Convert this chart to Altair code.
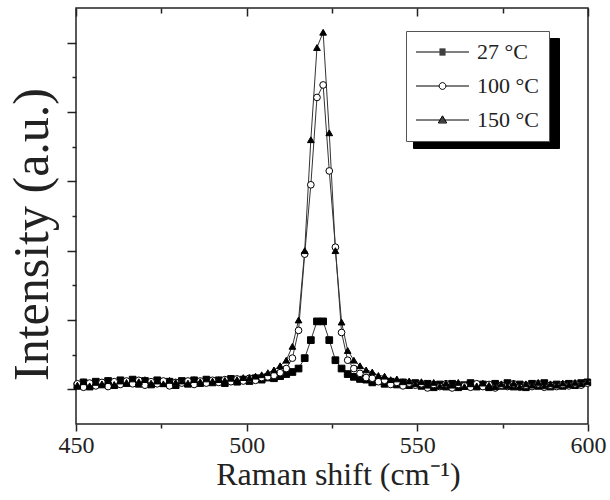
import altair as alt
import pandas as pd

# ---------------- data ----------------
raman_shift = [
    450.4, 452.2, 454.0, 455.8, 457.6, 459.4, 461.2, 463.0, 464.8, 466.6,
    468.4, 470.2, 472.0, 473.8, 475.6, 477.4, 479.2, 481.0, 482.8, 484.6,
    486.4, 488.2, 490.0, 491.8, 493.6, 495.4, 497.2, 499.0, 500.8, 502.6,
    504.4, 506.2, 508.0, 509.8, 511.6, 513.4, 515.2, 517.0, 518.8, 520.6,
    522.4, 524.2, 526.0, 527.8, 529.6, 531.4, 533.2, 535.0, 536.8, 538.6,
    540.4, 542.2, 544.0, 545.8, 547.6, 549.4, 551.2, 553.0, 554.8, 556.6,
    558.4, 560.2, 562.0, 563.8, 565.6, 567.4, 569.2, 571.0, 572.8, 574.6,
    576.4, 578.2, 580.0, 581.8, 583.6, 585.4, 587.2, 589.0, 590.8, 592.6,
    594.4, 596.2, 598.0, 599.8,
]
int_27 = [
    0.05, 0.10, 0.04, 0.11, 0.07, 0.12, 0.06, 0.13, 0.09, 0.14,
    0.08, 0.12, 0.07, 0.13, 0.09, 0.11, 0.06, 0.12, 0.08, 0.13,
    0.09, 0.14, 0.10, 0.13, 0.09, 0.15, 0.11, 0.14, 0.12, 0.16,
    0.14, 0.17, 0.16, 0.19, 0.22, 0.25, 0.30, 0.45, 0.71, 0.98,
    0.98, 0.71, 0.42, 0.30, 0.22, 0.18, 0.15, 0.14, 0.10, 0.12,
    0.08, 0.11, 0.07, 0.10, 0.06, 0.09, 0.05, 0.08, 0.03, 0.07,
    0.04, 0.08, 0.03, 0.06, 0.09, 0.04, 0.07, 0.03, 0.08, 0.05,
    0.09, 0.04, 0.07, 0.03, 0.08, 0.05, 0.09, 0.04, 0.07, 0.05,
    0.08, 0.06, 0.09, 0.10,
]
int_100 = [
    0.08, 0.03, 0.09, 0.05, 0.10, 0.04, 0.11, 0.07, 0.12, 0.08,
    0.13, 0.06, 0.11, 0.08, 0.12, 0.05, 0.10, 0.09, 0.12, 0.07,
    0.12, 0.09, 0.13, 0.10, 0.14, 0.11, 0.15, 0.12, 0.16, 0.13,
    0.17, 0.18, 0.20, 0.24, 0.30, 0.45, 0.85, 1.95, 2.95, 4.21,
    4.39, 3.15, 2.05, 0.82, 0.42, 0.30, 0.23, 0.17, 0.16, 0.11,
    0.13, 0.07, 0.10, 0.05, 0.09, 0.06, 0.08, 0.02, 0.07, 0.04,
    0.08, 0.02, 0.07, 0.05, 0.03, 0.08, 0.04, 0.07, 0.02, 0.06,
    0.04, 0.08, 0.03, 0.06, 0.04, 0.08, 0.03, 0.06, 0.04, 0.07,
    0.05, 0.08, 0.06, 0.09,
]
int_150 = [
    0.06, 0.11, 0.05, 0.10, 0.08, 0.13, 0.07, 0.12, 0.10, 0.15,
    0.11, 0.14, 0.09, 0.12, 0.08, 0.13, 0.10, 0.12, 0.09, 0.14,
    0.11, 0.15, 0.12, 0.14, 0.13, 0.16, 0.14, 0.17, 0.17, 0.19,
    0.21, 0.24, 0.28, 0.34, 0.42, 0.62, 1.00, 2.00, 3.60, 4.93,
    5.15, 3.70, 2.00, 0.97, 0.56, 0.42, 0.34, 0.28, 0.25, 0.20,
    0.19, 0.14, 0.15, 0.11, 0.12, 0.08, 0.11, 0.06, 0.10, 0.05,
    0.09, 0.06, 0.10, 0.04, 0.08, 0.05, 0.09, 0.06, 0.04, 0.08,
    0.05, 0.09, 0.04, 0.08, 0.06, 0.10, 0.05, 0.08, 0.06, 0.09,
    0.07, 0.10, 0.08, 0.11,
]
series_names = ["27 °C", "100 °C", "150 °C"]
x_ticks_major = [450, 500, 550, 600]
x_ticks_minor = [475, 525, 575]
y_ticks_major = [0, 1, 2, 3, 4, 5]
y_ticks_minor = [0.5, 1.5, 2.5, 3.5, 4.5]

assert len(raman_shift) == len(int_27) == len(int_100) == len(int_150)

rows = []
for name, vals in zip(series_names, [int_27, int_100, int_150]):
    for xv, yv in zip(raman_shift, vals):
        rows.append({"shift": xv, "intensity": yv, "series": name})
df = pd.DataFrame(rows)

# ---------------- styling ----------------
FONT = "Liberation Serif"
INK = "#222222"
xscale = alt.Scale(domain=[450, 600], nice=False, zero=False)
yscale = alt.Scale(domain=[-0.5, 5.5], nice=False, zero=False)


def tick_axis(orient, values, size, offset=0):
    return alt.Axis(orient=orient, values=values, tickSize=size, offset=offset,
                    labels=False, title=None, domain=False, grid=False,
                    tickColor=INK, tickWidth=1.5)


x_main = alt.Axis(orient="bottom", values=x_ticks_major, tickSize=7, tickColor=INK,
                  tickWidth=1.5, domain=False, grid=False,
                  labelFont=FONT, labelFontSize=24, labelColor=INK, labelPadding=2,
                  labelFlush=False, format="d",
                  title="Raman shift (cm⁻¹)", titleFont=FONT, titleFontSize=32,
                  titleFontWeight="normal", titleColor=INK, titlePadding=2,
                  titleX=262)
y_main = alt.Axis(orient="left", values=y_ticks_major, tickSize=9, tickColor=INK,
                  tickWidth=1.5, domain=False, grid=False, labels=False,
                  title="Intensity (a.u.)", titleFont=FONT, titleFontSize=50,
                  titleFontWeight="normal", titleColor=INK,
                  titleX=-44, titleY=226, titleBaseline="middle", titleAngle=270)

shape_range_marks = ["square", "circle", "triangle-up"]
fill_range = ["black", "white", "black"]

# legend symbols: a horizontal line with the marker in the middle
# (filled markers are drawn as stacks of 1px strokes)
legend_paths = [
    "M-2.65,0L2.65,0"
    "M-0.3,-0.3L0.3,-0.3M-0.3,-0.2L0.3,-0.2M-0.3,-0.1L0.3,-0.1"
    "M-0.3,0.1L0.3,0.1M-0.3,0.2L0.3,0.2M-0.3,0.3L0.3,0.3",
    "M-2.65,0L-0.34,0M0.34,0L2.65,0"
    "M0.34,0A0.34,0.34 0 1,1 -0.34,0A0.34,0.34 0 1,1 0.34,0Z",
    "M-2.65,0L2.65,0"
    "M0,-0.42L0.42,0.3L-0.42,0.3Z"
    "M-0.07,-0.3L0.07,-0.3M-0.13,-0.2L0.13,-0.2M-0.19,-0.1L0.19,-0.1"
    "M-0.3,0.1L0.3,0.1M-0.36,0.2L0.36,0.2",
]
# the shadow box carries no labels; a long stroke gives it the main box's width
shadow_path = "M-2.5,0L9.2,0"

LEG_X, LEG_Y = 330, 23
legend_main = alt.Legend(
    orient="none", legendX=LEG_X, legendY=LEG_Y, title=None, padding=10,
    strokeColor="#555555", fillColor="white",
    symbolSize=400, symbolOffset=15.5, symbolStrokeWidth=1,
    symbolStrokeColor="black", symbolFillColor="transparent",
    labelOffset=23.5, labelFont=FONT, labelFontSize=22, labelColor=INK,
    rowPadding=12,
)
legend_shadow = alt.Legend(
    orient="none", legendX=LEG_X + 7, legendY=LEG_Y + 7, title=None, padding=10,
    strokeColor="black", fillColor="black",
    symbolSize=441, symbolOffset=15.5, symbolStrokeWidth=1,
    symbolStrokeColor="black", symbolFillColor="black",
    labelExpr="''", labelOffset=0, labelFontSize=22,
    rowPadding=12,
)

base = alt.Chart(df)
empty = base.transform_filter("datum.intensity > 1000")

lines = base.mark_line(color="#333333", strokeWidth=1).encode(
    x=alt.X("shift:Q", scale=xscale, axis=x_main),
    y=alt.Y("intensity:Q", scale=yscale, axis=y_main),
    detail="series:N",
)

points = base.mark_point(stroke="black", strokeWidth=1, opacity=1, size=45).encode(
    x=alt.X("shift:Q", scale=xscale, axis=tick_axis("bottom", x_ticks_minor, 4)),
    y=alt.Y("intensity:Q", scale=yscale, axis=tick_axis("left", y_ticks_minor, 4)),
    shape=alt.Shape("series:N", scale=alt.Scale(domain=series_names, range=shape_range_marks), legend=None),
    fill=alt.Fill("series:N", scale=alt.Scale(domain=series_names, range=fill_range), legend=None),
)

shadow_layer = empty.mark_point(stroke="black", strokeWidth=1, opacity=1).encode(
    x=alt.X("shift:Q", scale=xscale, axis=tick_axis("top", x_ticks_minor, 5, offset=-5)),
    y=alt.Y("intensity:Q", scale=yscale, axis=None),
    shape=alt.Shape("series:N", scale=alt.Scale(domain=series_names, range=[shadow_path] * 3), legend=legend_shadow),
)

legend_layer = empty.mark_point(stroke="black", strokeWidth=1, opacity=1).encode(
    x=alt.X("shift:Q", scale=xscale, axis=tick_axis("top", x_ticks_major, 8, offset=-8)),
    y=alt.Y("intensity:Q", scale=yscale, axis=None),
    shape=alt.Shape("series:N", scale=alt.Scale(domain=series_names, range=legend_paths), legend=legend_main),
)

chart = alt.layer(lines, points, shadow_layer, legend_layer).resolve_scale(
    shape="independent", fill="independent"
).resolve_axis(
    x="independent", y="independent"
).properties(
    width=512, height=416,
    padding={"left": 76, "top": 8, "right": 22, "bottom": 76},
    autosize=alt.AutoSizeParams(type="none"),
    background="white",
).configure_view(stroke=INK, strokeWidth=1.5)

chart.save("out.html", embed_options={"renderer": "svg", "actions": False})
